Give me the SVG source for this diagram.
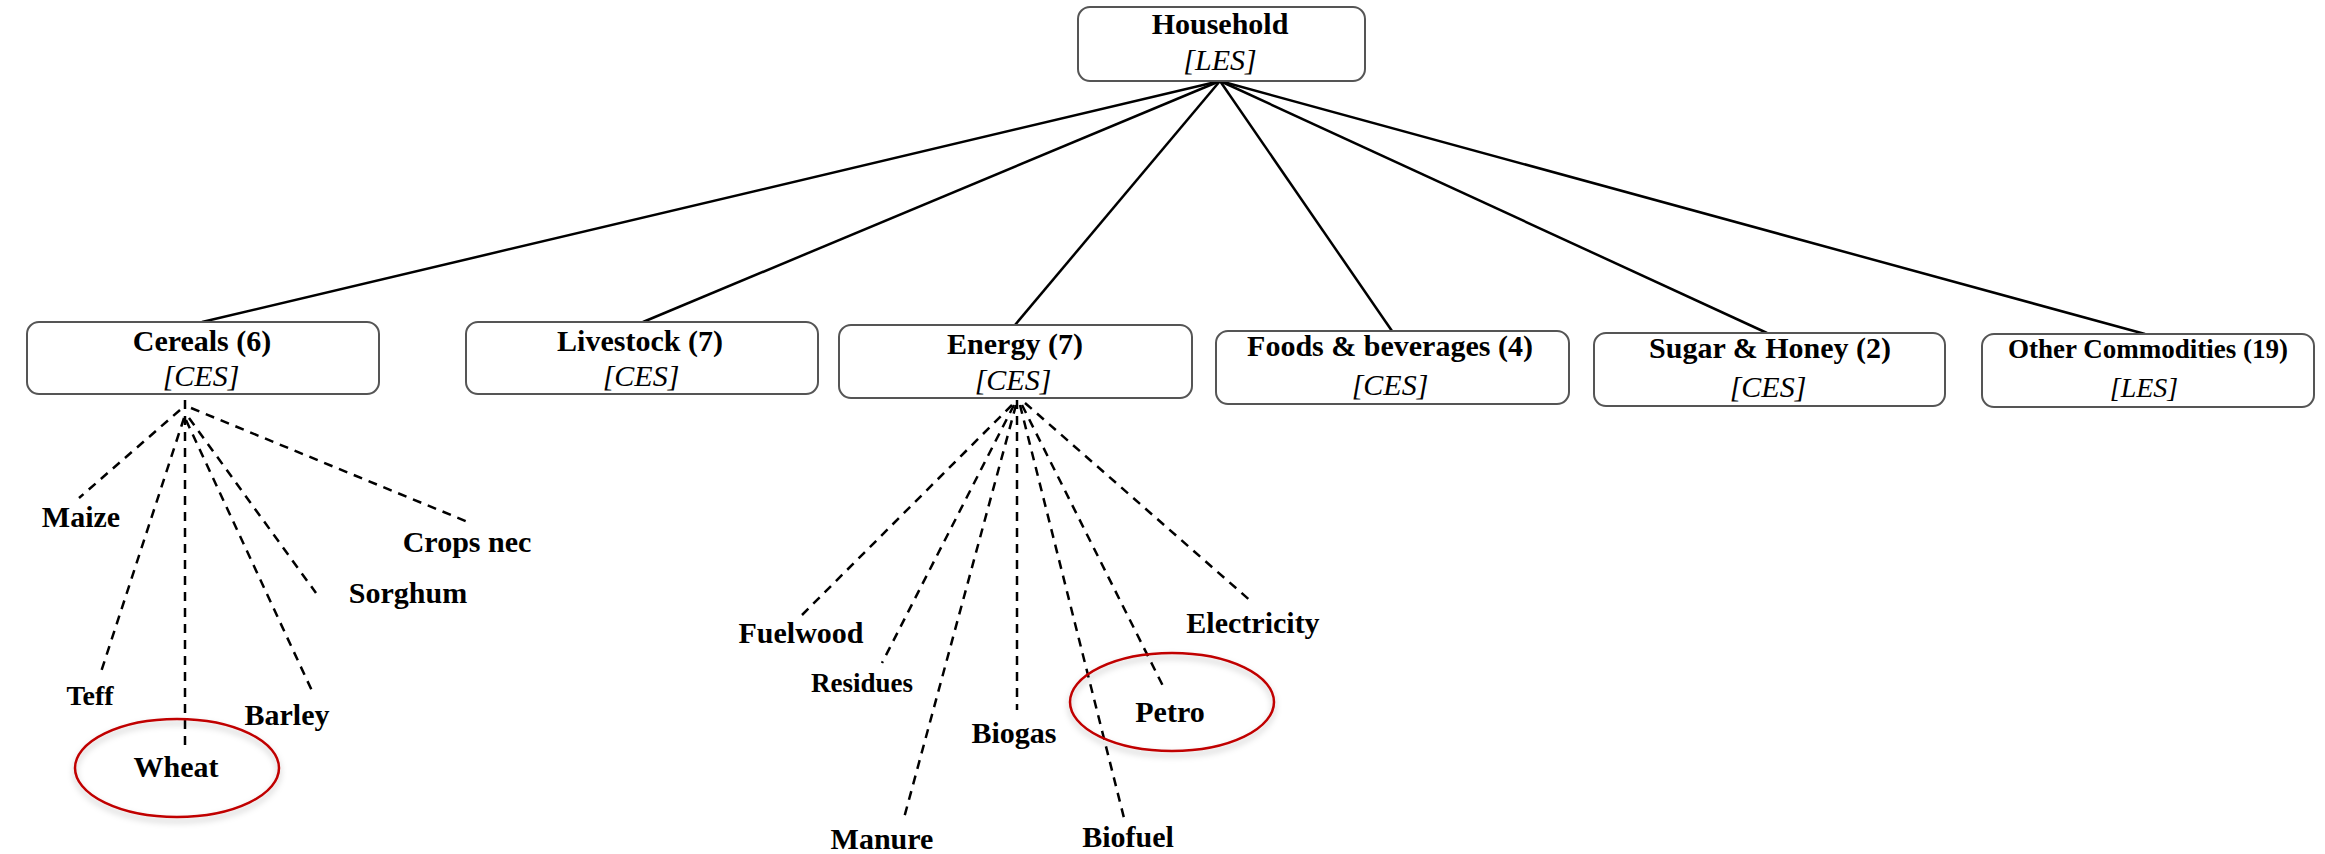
<svg xmlns="http://www.w3.org/2000/svg" width="2325" height="854" viewBox="0 0 2325 854">
<defs>
<style>
.box{fill:#fff;stroke:#555;stroke-width:2}
.t{font-family:"Liberation Serif","Times New Roman",serif;font-weight:bold;font-size:30px;fill:#000;text-anchor:middle}
.i{font-family:"Liberation Serif","Times New Roman",serif;font-style:italic;font-size:30px;fill:#000;text-anchor:middle}
.solid{stroke:#000;stroke-width:2.5;fill:none}
.dash{stroke:#000;stroke-width:2.5;fill:none;stroke-dasharray:9 7}
.ring{fill:none;stroke:#c00000;stroke-width:2.5}
</style>
<filter id="sh" x="-20%" y="-20%" width="140%" height="150%">
<feDropShadow dx="0" dy="4" stdDeviation="3" flood-color="#000" flood-opacity="0.25"/>
</filter>
</defs>
<rect width="2325" height="854" fill="#fff"/>
<g id="connectors">
<line class="solid" x1="1220" y1="81" x2="202" y2="322"/>
<line class="solid" x1="1220" y1="81" x2="643" y2="322"/>
<line class="solid" x1="1220" y1="81" x2="1015" y2="325"/>
<line class="solid" x1="1220" y1="81" x2="1392" y2="331"/>
<line class="solid" x1="1220" y1="81" x2="1767" y2="333"/>
<line class="solid" x1="1220" y1="81" x2="2145" y2="334"/>
<line class="dash" x1="180" y1="410" x2="79" y2="498"/>
<line class="dash" x1="184" y1="418" x2="100" y2="675"/>
<line class="dash" x1="185" y1="400" x2="185" y2="750"/>
<line class="dash" x1="186" y1="420" x2="313" y2="693"/>
<line class="dash" x1="189" y1="418" x2="316" y2="593"/>
<line class="dash" x1="191" y1="408" x2="468" y2="522"/>
<line class="dash" x1="1012" y1="405" x2="802" y2="615"/>
<line class="dash" x1="1014" y1="405" x2="882" y2="663"/>
<line class="dash" x1="1016" y1="405" x2="904" y2="818"/>
<line class="dash" x1="1017" y1="400" x2="1017" y2="710"/>
<line class="dash" x1="1020" y1="405" x2="1124" y2="818"/>
<line class="dash" x1="1022" y1="405" x2="1165" y2="690"/>
<line class="dash" x1="1025" y1="403" x2="1253" y2="603"/>
</g>
<g id="household">
<rect class="box" x="1078" y="7" width="287" height="74" rx="12"/>
<text class="t" x="1220" y="34">Household</text>
<text class="i" x="1220" y="70">[LES]</text>
</g>
<g id="cereals">
<rect class="box" x="27" y="322" width="352" height="72" rx="12"/>
<text class="t" x="202" y="351">Cereals (6)</text>
<text class="i" x="201" y="386">[CES]</text>
</g>
<g id="livestock">
<rect class="box" x="466" y="322" width="352" height="72" rx="12"/>
<text class="t" x="640" y="351">Livestock (7)</text>
<text class="i" x="641" y="386">[CES]</text>
</g>
<g id="energy">
<rect class="box" x="839" y="325" width="353" height="73" rx="12"/>
<text class="t" x="1015" y="354">Energy (7)</text>
<text class="i" x="1013" y="390">[CES]</text>
</g>
<g id="foods">
<rect class="box" x="1216" y="331" width="353" height="73" rx="12"/>
<text class="t" x="1390" y="356">Foods &amp; beverages (4)</text>
<text class="i" x="1390" y="395">[CES]</text>
</g>
<g id="sugar">
<rect class="box" x="1594" y="333" width="351" height="73" rx="12"/>
<text class="t" x="1770" y="358">Sugar &amp; Honey (2)</text>
<text class="i" x="1768" y="397">[CES]</text>
</g>
<g id="other">
<rect class="box" x="1982" y="334" width="332" height="73" rx="12"/>
<text class="t" x="2148" y="358" style="font-size:27px">Other Commodities (19)</text>
<text class="i" x="2144" y="397" style="font-size:28px">[LES]</text>
</g>
<g id="maize"><text class="t" x="81" y="527">Maize</text></g>
<g id="crops-nec"><text class="t" x="467" y="552">Crops nec</text></g>
<g id="sorghum"><text class="t" x="408" y="603">Sorghum</text></g>
<g id="teff"><text class="t" x="90" y="705" style="font-size:28px">Teff</text></g>
<g id="barley"><text class="t" x="287" y="725">Barley</text></g>
<g id="wheat">
<ellipse class="ring" cx="177" cy="768" rx="102" ry="49" filter="url(#sh)"/>
<text class="t" x="176" y="777">Wheat</text>
</g>
<g id="fuelwood"><text class="t" x="801" y="643">Fuelwood</text></g>
<g id="residues"><text class="t" x="862" y="692" style="font-size:27px">Residues</text></g>
<g id="biogas"><text class="t" x="1014" y="743">Biogas</text></g>
<g id="manure"><text class="t" x="882" y="849">Manure</text></g>
<g id="biofuel"><text class="t" x="1128" y="847">Biofuel</text></g>
<g id="petro">
<ellipse class="ring" cx="1172" cy="702" rx="102" ry="49" filter="url(#sh)"/>
<text class="t" x="1170" y="722">Petro</text>
</g>
<g id="electricity"><text class="t" x="1253" y="633">Electricity</text></g>
</svg>
